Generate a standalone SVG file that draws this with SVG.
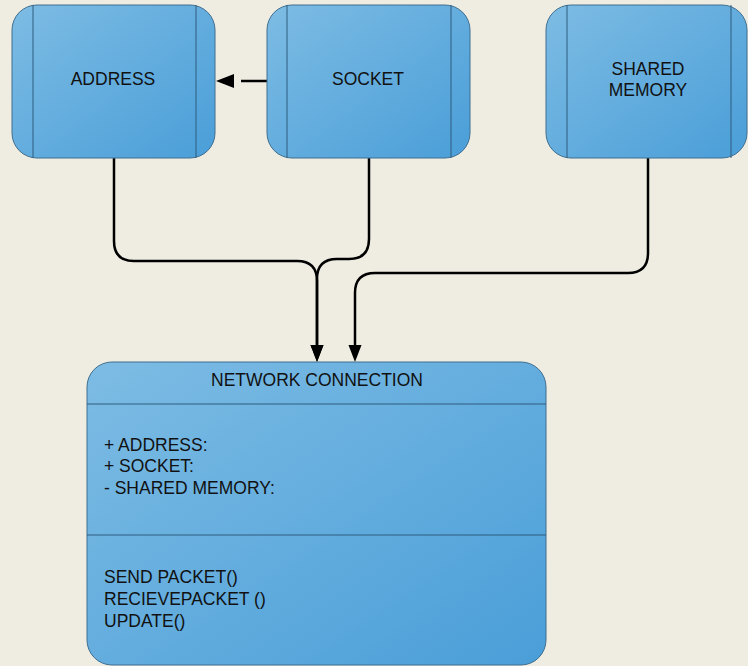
<svg xmlns="http://www.w3.org/2000/svg" width="748" height="666" viewBox="0 0 748 666">
<style>
.box{fill:url(#g);stroke:#3f6f90;stroke-width:1}
.ln{stroke:#2f5d7e;stroke-width:1;fill:none}
.t{font-family:"Liberation Sans",Arial,sans-serif;font-size:17.5px;fill:#111}
.c{stroke:#000;stroke-width:2.5;fill:none}
</style>
<defs>
<linearGradient id="g" x1="0" y1="0" x2="1" y2="1">
<stop offset="0" stop-color="#7dbce4"/>
<stop offset="1" stop-color="#4a9ed8"/>
</linearGradient>
<marker id="ad" markerUnits="userSpaceOnUse" markerWidth="17" markerHeight="13" viewBox="0 0 17 13" refX="10" refY="6.5" orient="auto" overflow="visible">
<path d="M0,0 L17,6.5 L0,13 z" fill="#000"/>
</marker>
<marker id="al" markerUnits="userSpaceOnUse" markerWidth="18" markerHeight="14" viewBox="0 0 18 14" refX="-7" refY="7" orient="auto" overflow="visible">
<path d="M0,0 L18,7 L0,14 z" fill="#000"/>
</marker>
</defs>
<rect width="748" height="666" fill="#efece2"/>
<g id="connectors">
<path class="c" d="M267,81 H241" marker-end="url(#al)"/>
<path class="c" d="M114,158 V241 Q114,261 134,261 H297 Q317,261 317,281 V355" marker-end="url(#ad)"/>
<path class="c" d="M369,158 V239 Q369,259 349,259 H337 Q317,259 317,279 V355" marker-end="url(#ad)"/>
<path class="c" d="M648,158 V253 Q648,273 628,273 H375 Q355,273 355,293 V355" marker-end="url(#ad)"/>
</g>
<g id="address">
<rect class="box" x="12" y="5" width="203" height="153" rx="25"/>
<path class="ln" d="M33,5 V158 M196,5 V158"/>
<text class="t" x="113" y="85" text-anchor="middle">ADDRESS</text>
</g>
<g id="socket">
<rect class="box" x="267" y="5" width="203" height="153" rx="25"/>
<path class="ln" d="M287,5 V158 M451,5 V158"/>
<text class="t" x="368" y="85" text-anchor="middle">SOCKET</text>
</g>
<g id="shared-memory">
<rect class="box" x="546" y="5" width="201" height="153" rx="25"/>
<path class="ln" d="M567,5 V158 M731,5 V158"/>
<text class="t" x="648" y="75" text-anchor="middle">SHARED</text>
<text class="t" x="648" y="96" text-anchor="middle">MEMORY</text>
</g>
<g id="network-connection">
<rect class="box" x="87" y="362" width="459" height="303" rx="25"/>
<path class="ln" d="M87,404 H546 M87,535 H546"/>
<text class="t" x="317" y="386" text-anchor="middle">NETWORK CONNECTION</text>
<text class="t" x="104" y="451">+ ADDRESS:</text>
<text class="t" x="104" y="472">+ SOCKET:</text>
<text class="t" x="104" y="494">- SHARED MEMORY:</text>
<text class="t" x="104" y="583">SEND PACKET()</text>
<text class="t" x="104" y="605">RECIEVEPACKET ()</text>
<text class="t" x="104" y="627">UPDATE()</text>
</g>
</svg>
